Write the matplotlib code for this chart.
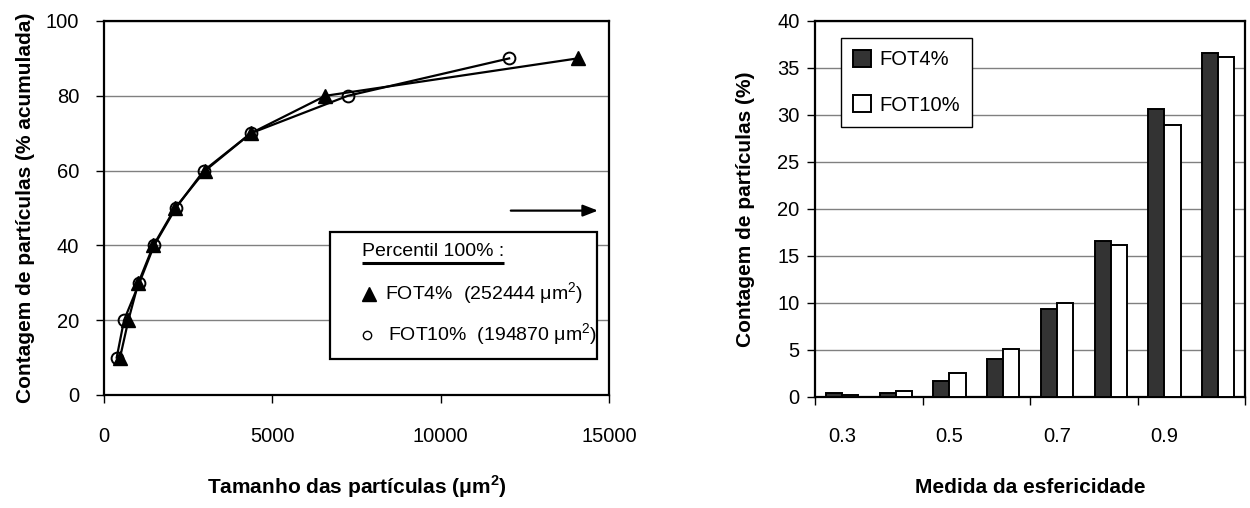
import matplotlib
matplotlib.use("Agg")
import matplotlib.pyplot as plt
from matplotlib.patches import Rectangle

FONT = "Liberation Sans"
plt.rcParams["font.family"] = [FONT, "DejaVu Sans"]
plt.rcParams["mathtext.fontset"] = "custom"
plt.rcParams["mathtext.rm"] = FONT

# Cumulative particle count vs particle size
size_fot4 = [476, 724, 1021, 1468, 2113, 3006, 4365, 6577, 14068]
cum_fot4 = [10, 20, 30, 40, 50, 60, 70, 80, 90]
size_fot10 = [377, 595, 1051, 1488, 2133, 2966, 4365, 7242, 12034]
cum_fot10 = [10, 20, 30, 40, 50, 60, 70, 80, 90]

# Sphericity distribution
sphericity = ["0.3", "0.4", "0.5", "0.6", "0.7", "0.8", "0.9", "1.0"]
count_fot4 = [0.43, 0.43, 1.7, 4.04, 9.36, 16.63, 30.64, 36.6]
count_fot10 = [0.21, 0.64, 2.55, 5.1, 10.0, 16.17, 28.94, 36.17]

TICK_FS = 14.5
LABEL_FS = 15
KEY_FS = 14

fig = plt.figure(figsize=(12.5, 5.08), dpi=100)
W, H = 1250, 508

def box(l, r, t, b):
    return [l / W, 1 - b / H, (r - l) / W, (b - t) / H]

# ---------------- left panel ----------------
ax1 = fig.add_axes(box(104, 609, 21, 395))
ax1.set_xlim(0, 15000)
ax1.set_ylim(0, 100)
ax1.set_xticks([0, 5000, 10000, 15000])
ax1.set_yticks([0, 20, 40, 60, 80, 100])
ax1.yaxis.grid(True, color="#808080", lw=1.0)
ax1.set_axisbelow(True)
ax1.plot(size_fot4, cum_fot4, color="black", lw=1.6, marker="^", ms=9.5,
         mfc="black", mec="black", zorder=3)
ax1.plot(size_fot10, cum_fot10, color="black", lw=1.6, marker="o", ms=8.5,
         mfc="none", mec="black", mew=1.4, zorder=3)
ax1.tick_params(axis="x", direction="out", length=6, width=1,
                labelsize=TICK_FS, pad=17)
ax1.tick_params(axis="y", direction="out", length=6, width=1,
                labelsize=TICK_FS, pad=12)
for s in ax1.spines.values():
    s.set_linewidth(1.6)
ax1.set_ylabel("Contagem de partículas (% acumulada)", fontsize=LABEL_FS,
               fontweight="bold", labelpad=8)
ax1.set_xlabel("Tamanho das partículas (μm$^{\\mathregular{2}}$)", fontsize=LABEL_FS,
               fontweight="bold", labelpad=20)

# arrow pointing beyond the axis range
ax1.annotate("", xy=(14673, 49.3), xytext=(12083, 49.3),
             arrowprops=dict(arrowstyle="-|>,head_length=0.9,head_width=0.35",
                             color="black", lw=1.6, shrinkA=0, shrinkB=0))

# percentile-100% key box
T = ax1.transAxes
def ax_xy(px, py):
    return ((px - 104) / 505, (395 - py) / 374)

x0, y0 = ax_xy(330, 359)
x1, y1 = ax_xy(597, 232)
ax1.add_patch(Rectangle((x0, y0), x1 - x0, y1 - y0, transform=T, fc="white",
                        ec="black", lw=1.6, zorder=4))
tx, ty = ax_xy(362, 252)
title = ax1.text(tx, ty, "Percentil 100% :", transform=T, fontsize=KEY_FS,
                 va="center", ha="left", zorder=5)
mx, my = ax_xy(369, 294)
ax1.plot([mx], [my], transform=T, marker="^", ms=10, color="black", zorder=5)
lx, _ = ax_xy(385, 294)
ax1.text(lx, my, "FOT4%  (252444 μm$^{\\mathregular{2}}$)", transform=T,
         fontsize=KEY_FS, va="center", ha="left", zorder=5)
mx2, my2 = ax_xy(367, 335)
ax1.plot([mx2], [my2], transform=T, marker="o", ms=6, mfc="white",
         mec="black", mew=1.0, zorder=5)
lx2, _ = ax_xy(388, 335)
ax1.text(lx2, my2, "FOT10%  (194870 μm$^{\\mathregular{2}}$)", transform=T,
         fontsize=KEY_FS, va="center", ha="left", zorder=5)

# ---------------- right panel ----------------
ax2 = fig.add_axes(box(815, 1245, 21, 396.7))
pos = list(range(len(sphericity)))
bw = 0.3
ax2.bar([p - bw / 2 for p in pos], count_fot4, width=bw, color="#333333",
        edgecolor="black", lw=1.4, label="FOT4%", zorder=3)
ax2.bar([p + bw / 2 for p in pos], count_fot10, width=bw, color="white",
        edgecolor="black", lw=1.4, label="FOT10%", zorder=3)
ax2.set_xlim(-0.5, len(sphericity) - 0.5)
ax2.set_ylim(0, 40)
ax2.set_yticks(range(0, 41, 5))
ax2.set_xticks([-0.5, 1.5, 3.5, 5.5, 7.5])
ax2.set_xticklabels([])
ax2.set_xticks(pos[::2], minor=True)
ax2.set_xticklabels(sphericity[::2], minor=True)
ax2.tick_params(axis="x", which="minor", length=0, labelsize=TICK_FS, pad=22)
ax2.tick_params(axis="x", which="major", direction="out", length=6, width=1)
ax2.tick_params(axis="y", direction="out", length=6, width=1,
                labelsize=TICK_FS, pad=5)
ax2.yaxis.grid(True, color="#808080", lw=1.0)
ax2.set_axisbelow(True)
for s in ax2.spines.values():
    s.set_linewidth(1.6)
ax2.set_ylabel("Contagem de partículas (%)", fontsize=LABEL_FS,
               fontweight="bold", labelpad=16)
ax2.set_xlabel("Medida da esfericidade", fontsize=LABEL_FS,
               fontweight="bold", labelpad=23)
leg = ax2.legend(loc="upper left", bbox_to_anchor=(0.0605, 0.955),
                 fontsize=KEY_FS + 0.5, frameon=True, fancybox=False,
                 edgecolor="black", framealpha=1, handlelength=0.9,
                 handleheight=0.9, handletextpad=0.4, labelspacing=1.3,
                 borderpad=0.6, borderaxespad=0)
leg.get_frame().set_linewidth(1.0)

# underline the key title across its full width
fig.canvas.draw()
bb = title.get_window_extent().transformed(T.inverted())
uy = ax_xy(0, 263)[1]
ax1.plot([bb.x0, bb.x1], [uy, uy], transform=T, color="black", lw=2.2,
         zorder=5, solid_capstyle="butt")

fig.savefig("out.png", dpi=100, facecolor="white")
